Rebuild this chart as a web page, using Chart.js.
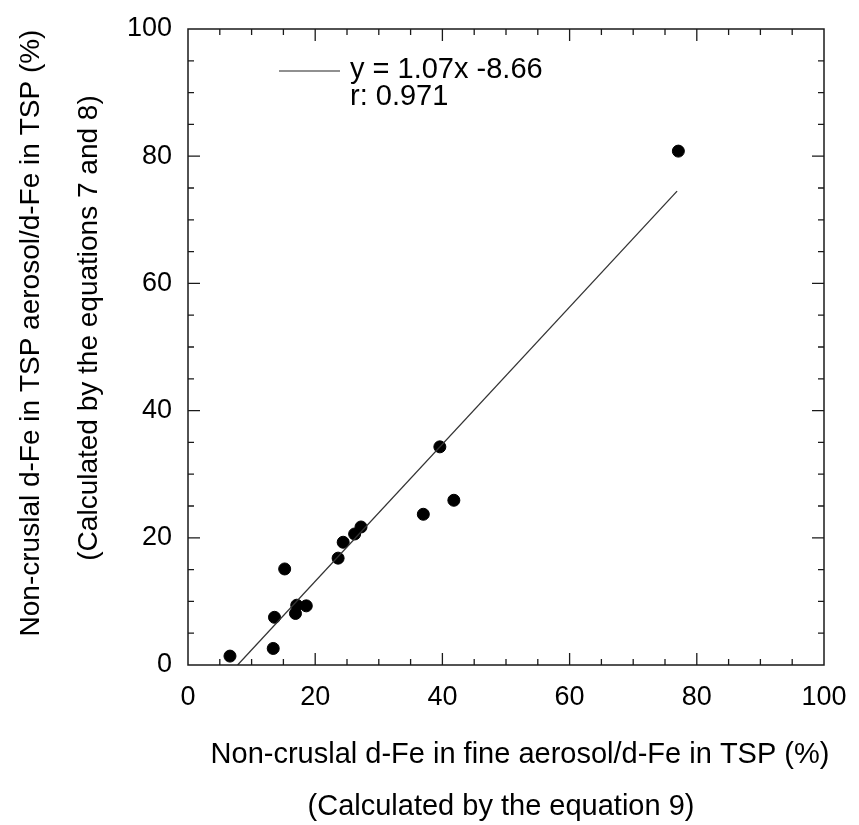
<!DOCTYPE html>
<html>
<head>
<meta charset="utf-8">
<script src="https://cdn.jsdelivr.net/npm/chart.js@4.4.1/dist/chart.umd.min.js"></script>
<style>
  html, body { margin: 0; padding: 0; background: #fff; }
</style>
</head>
<body>
<canvas id="feChart" width="859" height="825"></canvas>
<script>
// values
const fineFe = [6.6, 13.4, 13.6, 15.2, 16.9, 17.1, 18.6, 23.6, 24.4, 26.2, 27.2, 37.0, 41.8, 39.6, 77.1];
const tspFe  = [1.4, 2.6, 7.5, 15.1, 8.1, 9.4, 9.3, 16.8, 19.3, 20.6, 21.7, 23.7, 25.9, 34.3, 80.8];
const fitX = [7.8, 76.9];
const fitY = [0, 74.5];
const tickValues = [0, 20, 40, 60, 80, 100];

const xTitle = ["Non-cruslal d-Fe in fine aerosol/d-Fe in TSP (%)", "(Calculated by the equation 9)"];
const yTitle = ["Non-cruslal d-Fe in TSP aerosol/d-Fe in TSP (%)", "(Calculated by the equations 7 and 8)"];
const fitLabel = ["y = 1.07x -8.66", "r: 0.971"];

const FONT = '"Liberation Sans", Arial, sans-serif';

// frame, inward ticks on all four sides, axis titles and the fit label
const decor = {
  id: "decor",
  afterDraw(chart) {
    const ctx = chart.ctx;
    const a = chart.chartArea;
    const xs = chart.scales.x, ys = chart.scales.y;
    ctx.save();
    ctx.strokeStyle = "#1a1a1a";
    ctx.lineWidth = 1.5;
    ctx.strokeRect(a.left, a.top, a.right - a.left, a.bottom - a.top);

    ctx.lineWidth = 1.3;
    ctx.beginPath();
    for (let v = 5; v < 100; v += 5) {
      const len = v % 20 === 0 ? 12 : 6;
      const px = xs.getPixelForValue(v);
      ctx.moveTo(px, a.bottom); ctx.lineTo(px, a.bottom - len);
      ctx.moveTo(px, a.top); ctx.lineTo(px, a.top + len);
      const py = ys.getPixelForValue(v);
      ctx.moveTo(a.left, py); ctx.lineTo(a.left + len, py);
      ctx.moveTo(a.right, py); ctx.lineTo(a.right - len, py);
    }
    ctx.stroke();

    ctx.fillStyle = "#000";
    ctx.font = "29px " + FONT;
    ctx.textAlign = "center";
    ctx.textBaseline = "alphabetic";
    const cx = (a.left + a.right) / 2;
    ctx.fillText(xTitle[0], cx + 14, 763);
    ctx.fillText(xTitle[1], cx - 5, 815);

    ctx.font = "28px " + FONT;
    ctx.save();
    ctx.translate(39, 333);
    ctx.rotate(-Math.PI / 2);
    ctx.fillText(yTitle[0], 0, 0);
    ctx.restore();
    ctx.save();
    ctx.translate(97, 328);
    ctx.rotate(-Math.PI / 2);
    ctx.fillText(yTitle[1], 0, 0);
    ctx.restore();

    // fit legend
    ctx.strokeStyle = "#222";
    ctx.lineWidth = 1.2;
    ctx.beginPath();
    ctx.moveTo(a.left + 91, a.top + 42);
    ctx.lineTo(a.left + 152, a.top + 42);
    ctx.stroke();
    ctx.font = "29px " + FONT;
    ctx.textAlign = "left";
    ctx.fillText(fitLabel[0], a.left + 162, a.top + 49);
    ctx.fillText(fitLabel[1], a.left + 162, a.top + 76);
    ctx.restore();
  }
};

const ctx = document.getElementById("feChart").getContext("2d");
new Chart(ctx, {
  type: "scatter",
  data: {
    datasets: [
      {
        type: "line",
        label: "fit",
        data: fitX.map((x, i) => ({ x: x, y: fitY[i] })),
        borderColor: "#333",
        borderWidth: 1.3,
        pointRadius: 0,
        fill: false
      },
      {
        label: "samples",
        data: fineFe.map((x, i) => ({ x: x, y: tspFe[i] })),
        backgroundColor: "#000",
        borderColor: "#000",
        pointRadius: 6,
        pointHoverRadius: 6
      }
    ]
  },
  options: {
    responsive: false,
    animation: false,
    layout: { padding: { top: 29, right: 35, left: 0, bottom: 0 } },
    plugins: {
      legend: { display: false },
      tooltip: { enabled: false }
    },
    scales: {
      x: {
        type: "linear",
        min: 0,
        max: 100,
        afterBuildTicks: s => { s.ticks = tickValues.map(v => ({ value: v })); },
        afterFit: s => { s.height = 160; s.paddingLeft = 0; s.paddingRight = 0; },
        grid: { display: false, drawTicks: false },
        border: { display: false },
        ticks: {
          color: "#000",
          padding: 16,
          maxRotation: 0,
          font: { size: 27, family: FONT }
        }
      },
      y: {
        type: "linear",
        min: 0,
        max: 100,
        afterBuildTicks: s => { s.ticks = tickValues.map(v => ({ value: v })); },
        afterFit: s => { s.width = 188; s.paddingTop = 0; s.paddingBottom = 0; },
        grid: { display: false, drawTicks: false },
        border: { display: false },
        ticks: {
          color: "#000",
          padding: 16,
          font: { size: 27, family: FONT }
        }
      }
    }
  },
  plugins: [decor]
});
</script>
</body>
</html>
